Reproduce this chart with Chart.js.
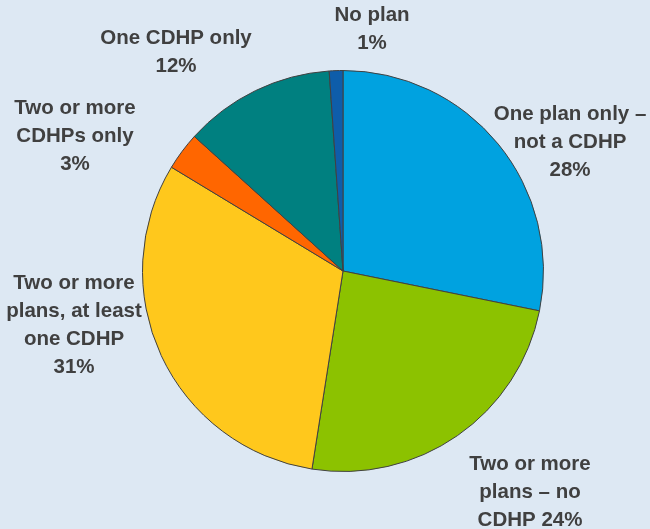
<!DOCTYPE html>
<html>
<head>
<meta charset="utf-8">
<script src="https://cdn.jsdelivr.net/npm/chart.js@4/dist/chart.umd.min.js"></script>
<style>
  html, body { margin: 0; padding: 0; background: #DDE8F3; }
  #wrap { width: 650px; height: 529px; position: relative; }
</style>
</head>
<body>
<div id="wrap"><canvas id="c" width="650" height="529"></canvas></div>
<script>
// Data (clockwise from 12 o'clock)
const categories = [
  "One plan only – not a CDHP",
  "Two or more plans – no CDHP",
  "Two or more plans, at least one CDHP",
  "Two or more CDHPs only",
  "One CDHP only",
  "No plan"
];
const values = [28.2, 24.3, 31.2, 3.05, 12.2, 1.1];
const percentLabels = ["28%", "24%", "31%", "3%", "12%", "1%"];
const labelLines = [
  ["One plan only –", "not a CDHP", "28%"],
  ["Two or more", "plans – no", "CDHP 24%"],
  ["Two or more", "plans, at least", "one CDHP", "31%"],
  ["Two or more", "CDHPs only", "3%"],
  ["One CDHP only", "12%"],
  ["No plan", "1%"]
];
const colors = ["#00A2E0", "#8CC200", "#FFC81C", "#FF6600", "#008080", "#0E5DAA"];

// Label layout (centre x, first-line y)
const labelLayout = [
  {x: 570, y: 114},
  {x: 530, y: 464},
  {x: 74,  y: 283},
  {x: 75,  y: 108},
  {x: 176, y: 38},
  {x: 372, y: 15}
];
const lineHeight = 28.2;

const labelPlugin = {
  id: 'sliceLabels',
  afterDraw(chart) {
    const ctx = chart.ctx;
    ctx.save();
    ctx.font = "bold 20.5px 'Liberation Sans', Arial, sans-serif";
    ctx.fillStyle = "#404040";
    ctx.textAlign = "center";
    ctx.textBaseline = "middle";
    labelLines.forEach((lines, i) => {
      const p = labelLayout[i];
      lines.forEach((t, j) => ctx.fillText(t, p.x, p.y + j * lineHeight));
    });
    ctx.restore();
  }
};

new Chart(document.getElementById('c'), {
  type: 'pie',
  data: {
    labels: categories,
    datasets: [{
      data: values,
      backgroundColor: colors,
      borderColor: "#404040",
      borderWidth: 1
    }]
  },
  options: {
    responsive: false,
    animation: false,
    layout: { padding: { left: 142, right: 106, top: 70, bottom: 57 } },
    plugins: { legend: { display: false }, tooltip: { enabled: false } }
  },
  plugins: [labelPlugin]
});
</script>
</body>
</html>
